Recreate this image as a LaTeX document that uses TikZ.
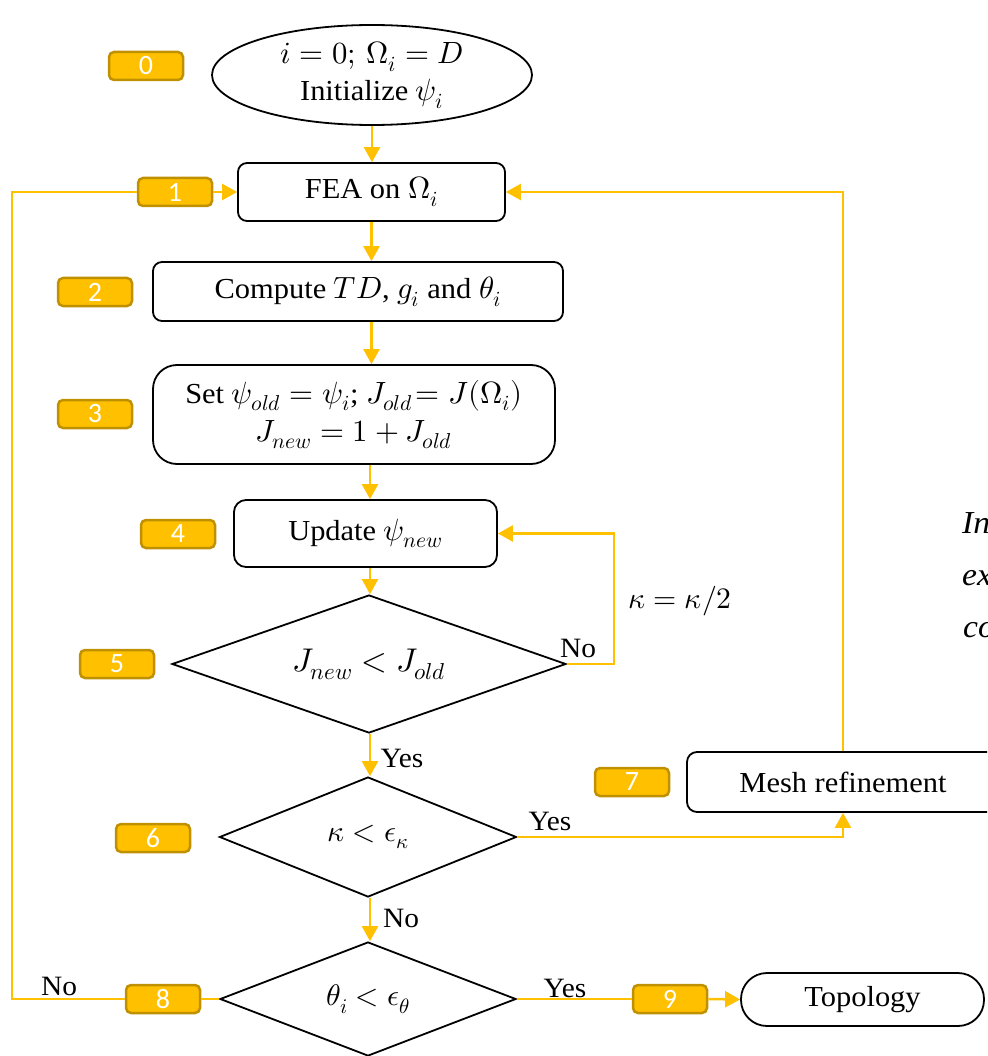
\documentclass[tikz,border=0pt]{standalone}
\usepackage{fontspec}
\usepackage{unicode-math}
\setmainfont{Liberation Serif}[FakeStretch=1.05]
\setmathfont{Latin Modern Math}[Scale=1.06]
\newfontfamily\badgefont{Carlito}
\usetikzlibrary{shapes.geometric,arrows.meta}
\definecolor{gold}{HTML}{FFC000}
\definecolor{golddark}{HTML}{BF9000}
\tikzset{
 every node/.style={font=\fontsize{29}{40}\selectfont},
 badge/.style={draw=golddark, fill=gold, line width=2.5pt, rounded corners=5pt, minimum width=74pt, minimum height=28pt, inner sep=0pt, text=white, font=\badgefont\fontsize{28}{28}\selectfont},
 proc/.style={draw=black, line width=1.8pt, rounded corners=9pt, inner sep=0pt, align=center},
 dec/.style={diamond, draw=black, line width=1.8pt, inner sep=0pt},
 link/.style={draw=gold, line width=2.5pt},
 arr/.style={link, -{Triangle[length=15pt,width=16pt]}},
 lbl/.style={font=\fontsize{28}{28}\selectfont, inner sep=0pt, anchor=base},
 side/.style={font=\itshape\fontsize{32}{32}\selectfont, inner sep=0pt, anchor=base west},
}
\begin{document}
\begin{tikzpicture}[x=1pt,y=-1pt]
\useasboundingbox (0,0) rectangle (987,1056);
\clip (0,0) rectangle (987,1056);
% column
\coordinate (col) at (370,0);
% nodes
\node[ellipse, draw=black, line width=1.8pt, minimum width=320pt, minimum height=100pt, inner sep=0pt, align=center] (ell) at (372,75) {$i=0;\,\Omega_i=D$\\[-3pt]Initialize $\psi_i$};
\node[badge] (b0) at (146,66) {0};
\node[proc, minimum width=267pt, minimum height=58pt] (fea) at (371.5,192) {FEA on $\Omega_i$};
\node[badge] (b1) at (175,192) {1};
\node[proc, minimum width=410pt, minimum height=59pt] (box2) at (358,291.5) {Compute $TD$, $g_i$ and $\theta_i$};
\node[badge] (b2) at (95,292) {2};
\node[proc, rounded corners=24pt, minimum width=402pt, minimum height=99pt] (box3) at (354,414.5) {Set $\psi_{old}=\psi_i$; $J_{old}\!=J(\Omega_i)$\\[-2pt]$J_{new}=1+J_{old}$};
\node[badge] (b3) at (95,414) {3};
\node[proc, rounded corners=12pt, minimum width=263pt, minimum height=67pt] (box4) at (365.5,533.5) {Update $\psi_{new}$};
\node[badge] (b4) at (178,534) {4};
\node[dec, aspect=2.86, minimum width=394pt, minimum height=138pt] (d5) at (369,664) {\fontsize{31}{31}\selectfont$J_{new}<J_{old}$};
\node[badge] (b5) at (117,664) {5};
\node[dec, aspect=2.48, minimum width=297pt, minimum height=120pt] (d6) at (368,837) {\fontsize{28}{28}\selectfont$\kappa<\epsilon_\kappa$};
\node[badge] (b6) at (153,838) {6};
\node[proc, rounded corners=10pt, minimum width=312pt, minimum height=60pt] (mesh) at (843,782) {Mesh refinement};
\node[badge] (b7) at (632,782) {7};
\node[dec, aspect=2.6, minimum width=296pt, minimum height=114pt] (d8) at (368,999) {\fontsize{28}{28}\selectfont$\theta_i<\epsilon_\theta$};
\node[badge] (b8) at (163,999) {8};
\node[badge] (b9) at (670,999) {9};
\node[proc, rounded corners=26pt, minimum width=243pt, minimum height=53pt] (topo) at (862.5,999.5) {Topology};
% connectors
\draw[arr] (ell.south) -- (ell.south |- fea.north);
\draw[arr] (fea.south) -- (fea.south |- box2.north);
\draw[arr] (box2.south -| fea.south) -- (fea.south |- box3.north);
\draw[arr] (box3.south -| col) -- (col |- box4.north);
\draw[arr] (box4.south -| col) -- (col |- d5.north);
\draw[arr] (d5.south -| col) -- (col |- d6.north);
\draw[arr] (d6.south -| col) -- (col |- d8.north);
\draw[arr] (d5.east) -- (614,664) -- (614,533.5) -- (box4.east);
\draw[arr] (d6.east) -- (843,837) -- (mesh.south);
\draw[arr] (mesh.north) -- (843,192) -- (fea.east);
\draw[link] (d8.west) -- (b8.east);
\draw[link] (b8.west) -- (12,999) -- (12,192) -- (b1.west);
\draw[arr] (b1.east) -- (fea.west);
\draw[link] (d8.east) -- (b9.west);
\draw[arr] (b9.east) -- (topo.west);
% labels
\node[lbl] (l5no) at (578,657) {No};
\node[lbl] (lkap) at (680,608) {$\kappa=\kappa/2$};
\node[lbl] (l5yes) at (402,767) {Yes};
\node[lbl] (l6yes) at (550,830) {Yes};
\node[lbl] (l6no) at (401,927) {No};
\node[lbl] (l8no) at (59,995) {No};
\node[lbl] (l8yes) at (565,997) {Yes};
% cut-off side text
\node[side] (s1) at (962,533) {In};
\node[side] (s2) at (962,585) {ex};
\node[side] (s3) at (963,637) {co};
\end{tikzpicture}
\end{document}
